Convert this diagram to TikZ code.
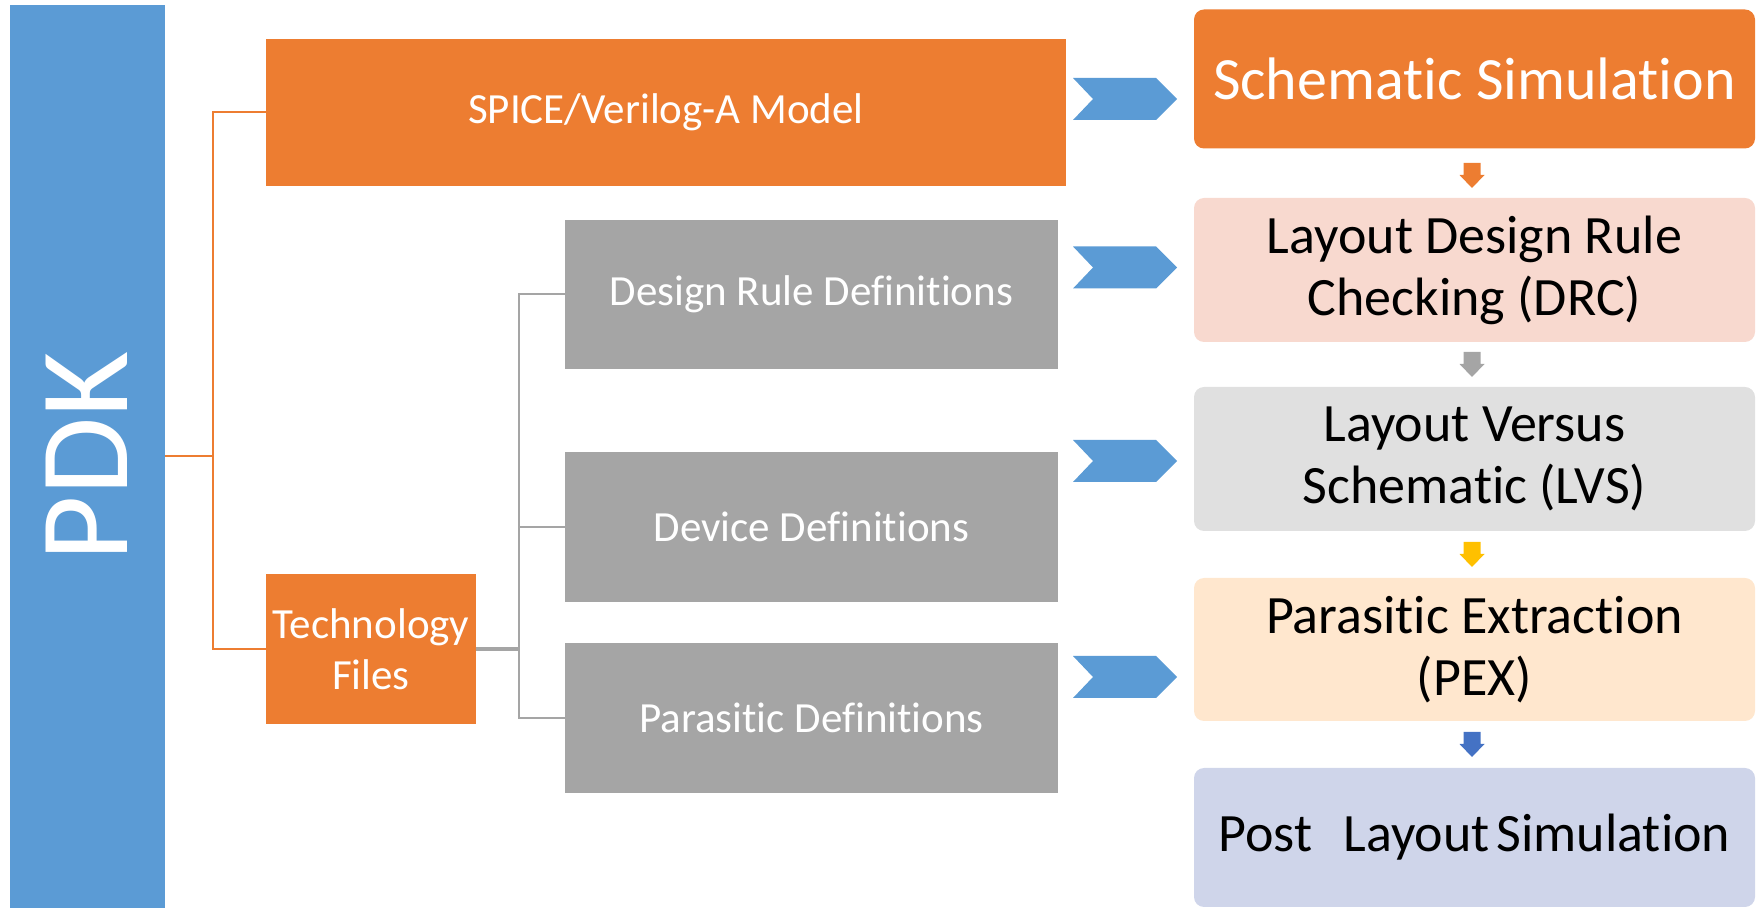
\documentclass[tikz,border=0pt]{standalone}
\usepackage{fontspec}
\setmainfont{Carlito}[Ligatures=NoCommon]
\definecolor{pdkblue}{HTML}{5B9BD5}
\definecolor{modelorange}{HTML}{ED7D31}
\definecolor{defgray}{HTML}{A5A5A5}
\definecolor{drcpink}{HTML}{F8D9CF}
\definecolor{lvsgray}{HTML}{E0E0E0}
\definecolor{pexpeach}{HTML}{FFE7CE}
\definecolor{postlilac}{HTML}{CFD5EA}
\definecolor{arrowyellow}{HTML}{FFC000}
\definecolor{arrowblue}{HTML}{4472C4}
\begin{document}
\begin{tikzpicture}[x=0.5pt,y=0.5pt,yscale=-1,xscale=1,
  srcbox/.style={fill=modelorange,text=white,inner sep=0pt,align=center,font=\fontsize{21.5}{25.5}\selectfont},
  defbox/.style={fill=defgray,text=white,inner sep=0pt,minimum width=246.5pt,minimum height=75pt,font=\fontsize{21.5}{26}\selectfont},
  flowbox/.style={rounded corners=5pt,inner sep=0pt,minimum width=280.5pt,minimum height=72pt,align=center,font=\fontsize{27}{31}\selectfont},
  orangeline/.style={draw=modelorange,line width=1pt},
  grayline/.style={draw=defgray,line width=1pt}]
\useasboundingbox (0,0) rectangle (1758,908);

%Shape: Rectangle PDK
\node [fill=pdkblue,text=white,rotate=90,inner sep=0pt,minimum width=451.5pt,minimum height=77.5pt,font=\fontsize{63.5}{70}\selectfont] (pdk) at (87,456.5) {PDK};

%Shape: Rectangle sources
\node [srcbox,minimum width=400pt,minimum height=73.5pt] (spice) at (666,112.5) {SPICE/Verilog-A Model};
\node [srcbox,minimum width=105pt,minimum height=75pt] (tech) at (371,649) {Technology\\Files};

%Shape: Rectangle definitions
\node [defbox,minimum height=74.5pt] (rules) at (811.5,294.5) {Design Rule Definitions};
\node [defbox] (devices) at (811.5,527) {Device Definitions};
\node [defbox] (parasitics) at (811.5,718) {Parasitic Definitions};

%Shape: Rounded Rectangle flow
\node [flowbox,fill=modelorange,text=white,minimum height=69.5pt,font=\fontsize{30}{34}\selectfont] (schsim) at (1474.5,79) {Schematic Simulation};
\node [flowbox,fill=drcpink] (drc) at (1474.5,270) {Layout Design Rule\\Checking (DRC)};
\node [flowbox,fill=lvsgray] (lvs) at (1474.5,459) {Layout Versus\\Schematic (LVS)};
\node [flowbox,fill=pexpeach,minimum height=71.5pt] (pex) at (1474.5,649.5) {Parasitic Extraction\\(PEX)};
\node [flowbox,fill=postlilac,minimum height=69.5pt] (postsim) at (1474.5,837.5) {Post\ \ \hspace{0.12em}Layout\hspace{-0.1em} Simulation};

%Straight Lines tree
\coordinate (jo) at ([xshift=24pt]pdk.south);
\coordinate (jg) at ([xshift=21.5pt]tech.east);
\draw [orangeline] (pdk.south) -- (jo);
\draw [orangeline] (spice.west) -| (jo) |- (tech.west);
\draw [grayline,line width=1.75pt] (tech.east) -- (jg);
\draw [grayline] (rules.west) -| (jg) |- (parasitics.west);
\draw [grayline] (jg |- devices.west) -- (devices.west);

%Shape: Chevron
\foreach \cy in {99,267.5,461,677}
  \fill [pdkblue] (1073,\cy-21) -- (1156,\cy-21) -- (1177,\cy) -- (1156,\cy+21) -- (1073,\cy+21) -- (1093,\cy) -- cycle;

%Shape: Down Arrow
\foreach \ay/\ac in {163/modelorange,352/defgray,542/arrowyellow,732/arrowblue}
  \fill [\ac] (1463.5,\ay) -- (1480.5,\ay) -- (1480.5,\ay+12) -- (1484.5,\ay+12) -- (1472,\ay+25) -- (1459.5,\ay+12) -- (1463.5,\ay+12) -- cycle;

\end{tikzpicture}
\end{document}
